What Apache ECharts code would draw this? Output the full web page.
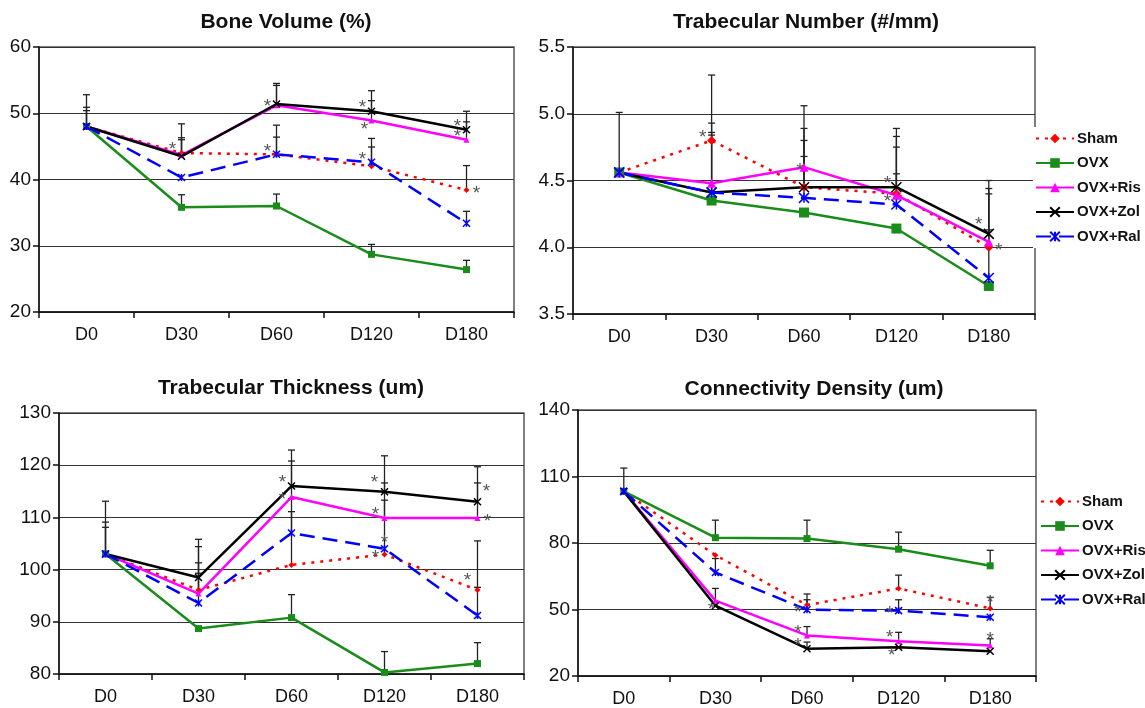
<!DOCTYPE html>
<html><head><meta charset="utf-8">
<script src="https://cdn.jsdelivr.net/npm/echarts@6/dist/echarts.min.js"></script>
<style>html,body{margin:0;padding:0;background:#fff}#c{width:1145px;height:708px}</style>
</head><body><div id="c"></div>
<script>
// ---------- data ----------
const categories = ['D0', 'D30', 'D60', 'D120', 'D180'];
const seriesNames = ['Sham', 'OVX', 'OVX+Ris', 'OVX+Zol', 'OVX+Ral'];
const panelTitles = ['Bone Volume (%)', 'Trabecular Number (#/mm)', 'Trabecular Thickness (um)', 'Connectivity Density (um)'];

// Bone Volume (%)
const bvSham = [48.0, 44.0, 43.8, 42.0, 38.4];
const bvOVX  = [48.0, 35.8, 36.0, 28.7, 26.4];
const bvRis  = [48.0, 43.7, 51.2, 48.9, 46.0];
const bvZol  = [48.0, 43.5, 51.4, 50.3, 47.5];
const bvRal  = [48.0, 40.3, 43.8, 42.6, 33.4];
const bvShamErr = [50.4, 46.0, 46.4, 44.9, 42.1];
const bvOVXErr  = [50.9, 37.7, 37.8, 30.2, 27.8];
const bvRisErr  = [52.8, 46.3, 54.2, 51.9, 48.7];
const bvZolErr  = [null, 48.4, 54.5, 53.4, 50.3];
const bvRalErr  = [null, null, 48.2, 46.2, 35.2];
const bvShamSig = [null, 'l', null, null, 'r'];
const bvOVXSig  = [null, null, null, null, null];
const bvRisSig  = [null, null, null, 'b', 'l'];
const bvZolSig  = [null, null, 'L', 'l', 'l'];
const bvRalSig  = [null, null, 'l', 'l', null];

// Trabecular Number (#/mm)
const tnSham = [4.56, 4.80, 4.45, 4.40, 4.00];
const tnOVX  = [4.56, 4.35, 4.26, 4.14, 3.71];
const tnRis  = [4.56, 4.48, 4.60, 4.39, 4.04];
const tnZol  = [4.56, 4.41, 4.45, 4.45, 4.10];
const tnRal  = [4.56, 4.41, 4.37, 4.32, 3.77];
const tnShamErr = [5.01, 5.29, 4.80, 4.75, 4.40];
const tnOVXErr  = [null, null, null, null, null];
const tnRisErr  = [null, 4.93, 5.06, 4.83, 4.44];
const tnZolErr  = [null, 4.86, 4.89, 4.89, 4.50];
const tnRalErr  = [null, 4.84, 4.68, 4.55, 4.13];
const tnShamSig = [null, 'l', null, null, 'r'];
const tnOVXSig  = [null, null, null, null, null];
const tnRisSig  = [null, null, 'c', null, null];
const tnZolSig  = [null, null, null, 'l', 'lu'];
const tnRalSig  = [null, null, null, 'l', null];

// Trabecular Thickness (um)
const ttSham = [103, 96.1, 100.9, 102.9, 96.1];
const ttOVX  = [103, 88.7, 90.8, 80.3, 82.0];
const ttRis  = [103, 95.4, 113.9, 109.9, 109.9];
const ttZol  = [103, 98.5, 116.0, 114.9, 113.0];
const ttRal  = [103, 93.6, 107.0, 104.0, 91.2];
const ttShamErr = [109.1, 101.3, 111.1, null, 105.5];
const ttOVXErr  = [null, null, 95.2, 84.3, 86.0];
const ttRisErr  = [108.1, 104.4, 120.8, 116.6, 116.6];
const ttZolErr  = [113.1, 105.8, 122.9, 121.8, 119.7];
const ttRalErr  = [null, 99.3, 113.6, 113.3, 96.6];
const ttShamSig = [null, null, null, 'L', 'lu'];
const ttOVXSig  = [null, null, null, null, null];
const ttRisSig  = [null, null, 'L', 'l', 'r'];
const ttZolSig  = [null, null, 'l', 'lu', 'ru'];
const ttRalSig  = [null, null, null, 't', null];

// Connectivity Density (um)
const cdSham = [103.3, 74.5, 52.0, 59.5, 50.5];
const cdOVX  = [103.3, 82.4, 82.0, 77.2, 69.7];
const cdRis  = [103.3, 54.0, 38.3, 35.7, 33.8];
const cdZol  = [103.3, 51.7, 32.3, 33.0, 31.2];
const cdRal  = [103.3, 66.7, 49.9, 49.5, 46.5];
const cdShamErr = [null, null, 57.0, 65.5, 55.5];
const cdOVXErr  = [113.8, 90.3, 90.3, 84.9, 76.7];
const cdRisErr  = [null, 59.5, 42.3, 39.7, 36.8];
const cdZolErr  = [null, null, 35.3, null, null];
const cdRalErr  = [null, 73.0, 54.4, 54.4, null];
const cdShamSig = [null, null, null, null, 't'];
const cdOVXSig  = [null, null, null, null, null];
const cdRisSig  = [null, null, 'l', 'l', 't'];
const cdZolSig  = [null, 'c', 'l', 'b', null];
const cdRalSig  = [null, null, 'L', 'L', null];

// ---------- styling ----------
const colors = ['#ff0000', '#1a8c1a', '#ff00ff', '#000000', '#0000ff'];
const symbols = ['diamond', 'rect', 'triangle',
  'path://M0,0L10,10M10,0L0,10',
  'path://M0,0L10,10M10,0L0,10M5,0L5,10'];
const dashes = [[3, 6], 'solid', 'solid', 'solid', [15, 8]];
const starOffset = { c: [-4, 0], L: [-9, -1], l: [-9, -7], lu: [-10, -13], r: [10, 0], ru: [9, -14], t: [0, -10], b: [-7, 5] };
const FONT = 'Liberation Sans, Arial, sans-serif';

const panels = [
  { vals: [bvSham, bvOVX, bvRis, bvZol, bvRal], errs: [bvShamErr, bvOVXErr, bvRisErr, bvZolErr, bvRalErr],
    sigs: [bvShamSig, bvOVXSig, bvRisSig, bvZolSig, bvRalSig], min: 20, max: 60, interval: 10, dec: 0,
    grid: { left: 39, top: 47, width: 475, height: 265 }, title: [286, 22], sym: 6 },
  { vals: [tnSham, tnOVX, tnRis, tnZol, tnRal], errs: [tnShamErr, tnOVXErr, tnRisErr, tnZolErr, tnRalErr],
    sigs: [tnShamSig, tnOVXSig, tnRisSig, tnZolSig, tnRalSig], min: 3.5, max: 5.5, interval: 0.5, dec: 1,
    grid: { left: 573, top: 47, width: 462, height: 267 }, title: [806, 22], sym: 9 },
  { vals: [ttSham, ttOVX, ttRis, ttZol, ttRal], errs: [ttShamErr, ttOVXErr, ttRisErr, ttZolErr, ttRalErr],
    sigs: [ttShamSig, ttOVXSig, ttRisSig, ttZolSig, ttRalSig], min: 80, max: 130, interval: 10, dec: 0,
    grid: { left: 59, top: 413, width: 465, height: 261 }, title: [291, 388], sym: 6 },
  { vals: [cdSham, cdOVX, cdRis, cdZol, cdRal], errs: [cdShamErr, cdOVXErr, cdRisErr, cdZolErr, cdRalErr],
    sigs: [cdShamSig, cdOVXSig, cdRisSig, cdZolSig, cdRalSig], min: 20, max: 140, interval: 30, dec: 0,
    grid: { left: 578, top: 410, width: 458, height: 267 }, title: [814, 389], sym: 6 }
];

const grids = [], xAxes = [], yAxes = [], series = [], graphics = [];
panels.forEach((p, gi) => {
  grids.push(Object.assign({ show: true, borderColor: '#555', borderWidth: 1.5, backgroundColor: 'transparent' }, p.grid));
  xAxes.push({
    type: 'category', gridIndex: gi, data: categories, boundaryGap: true,
    axisLine: { lineStyle: { color: '#111', width: 1.5 } },
    axisTick: { show: true, length: 6, lineStyle: { color: '#111', width: 1.5 } },
    axisLabel: { fontSize: 18, color: '#111', margin: 14, fontFamily: FONT },
    splitLine: { show: false }
  });
  yAxes.push({
    type: 'value', gridIndex: gi, min: p.min, max: p.max, interval: p.interval,
    axisLine: { show: true, lineStyle: { color: '#111', width: 1.5 } },
    axisTick: { show: true, length: 6, lineStyle: { color: '#111', width: 1.5 } },
    axisLabel: { fontSize: 19, color: '#111', margin: 8, fontFamily: FONT, formatter: v => v.toFixed(p.dec) },
    splitLine: { show: true, lineStyle: { color: '#333', width: 1.2 } }
  });
  graphics.push({
    type: 'text', x: p.title[0], y: p.title[1], z: 10,
    style: { text: panelTitles[gi], textAlign: 'center', textVerticalAlign: 'middle', font: 'bold 21px ' + FONT, fill: '#111' }
  });
  const errData = [];
  p.vals.forEach((arr, si) => {
    arr.forEach((v, ci) => {
      const e = p.errs[si][ci];
      if (e != null) errData.push([ci, v, e]);
    });
  });
  series.push({
    type: 'custom', xAxisIndex: gi, yAxisIndex: gi, z: 3, silent: true,
    data: errData,
    renderItem: (params, api) => {
      const a = api.coord([api.value(0), api.value(1)]);
      const b = api.coord([api.value(0), api.value(2)]);
      const st = { stroke: '#222', lineWidth: 1.3 };
      return {
        type: 'group', children: [
          { type: 'line', shape: { x1: a[0], y1: a[1], x2: b[0], y2: b[1] }, style: st },
          { type: 'line', shape: { x1: b[0] - 3.5, y1: b[1], x2: b[0] + 3.5, y2: b[1] }, style: st }
        ]
      };
    }
  });
  p.vals.forEach((arr, si) => {
    const isPath = si >= 3;
    series.push({
      type: 'line', name: seriesNames[si], xAxisIndex: gi, yAxisIndex: gi, z: 4,
      symbol: symbols[si], symbolSize: isPath ? p.sym + 1 : (si === 1 ? p.sym + 1 : p.sym),
      showAllSymbol: true,
      lineStyle: { color: colors[si], width: 2.5, type: dashes[si] },
      itemStyle: { color: colors[si], borderColor: colors[si], borderWidth: isPath ? 1.5 : 0 },
      emphasis: { disabled: true },
      data: arr.map((v, ci) => {
        const s = p.sigs[si][ci];
        if (!s) return v;
        const o = starOffset[s];
        return { value: v, label: { show: true, formatter: '*', position: 'inside', offset: [o[0], o[1] + 4],
          color: '#555', fontSize: 19, fontFamily: FONT } };
      })
    });
  });
});

const legendBase = {
  orient: 'vertical', data: seriesNames, itemWidth: 38, itemHeight: 12, itemGap: 9.5,
  backgroundColor: '#fff', padding: [4, 2, 4, 2], selectedMode: false,
  textStyle: { fontSize: 15, fontWeight: 'bold', color: '#111', fontFamily: FONT, padding: [0, 0, 0, -2] }
};

const chart = echarts.init(document.getElementById('c'), null, { renderer: 'canvas' });
chart.setOption({
  animation: false,
  backgroundColor: '#fff',
  grid: grids, xAxis: xAxes, yAxis: yAxes, series: series,
  legend: [
    Object.assign({}, legendBase, { left: 1033, top: 127 }),
    Object.assign({}, legendBase, { left: 1038, top: 490 })
  ],
  graphic: graphics
});
</script></body></html>
